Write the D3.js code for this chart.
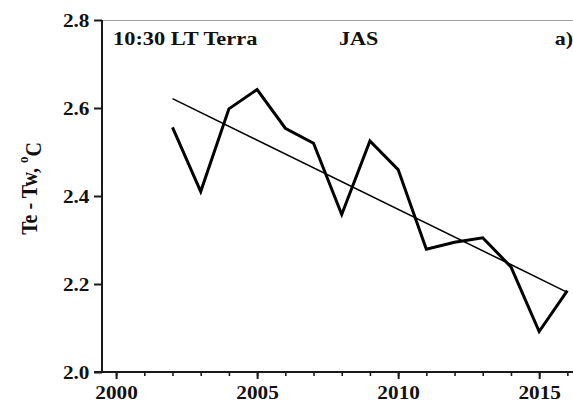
<!DOCTYPE html>
<html>
<head>
<meta charset="utf-8">
<script src="https://cdn.jsdelivr.net/npm/d3@7"></script>
<style>
  html, body { margin: 0; padding: 0; background: #fff; }
  svg { display: block; }
</style>
</head>
<body>
<svg id="chart" width="573" height="401"></svg>
<script>
// Annual JAS mean of Te - Tw (°C), 10:30 LT Terra overpass
const years = [2002, 2003, 2004, 2005, 2006, 2007, 2008, 2009, 2010, 2011, 2012, 2013, 2014, 2015, 2016];
const diffValues = [2.556, 2.41, 2.598, 2.642, 2.554, 2.52, 2.358, 2.525, 2.46, 2.279, 2.295, 2.305, 2.239, 2.092, 2.185];
const yTicks = [2.0, 2.2, 2.4, 2.6, 2.8];
const xMajorTicks = [2000, 2005, 2010, 2015];
const xMinorTicks = d3.range(2000, 2017);
const titleLeft = "10:30 LT Terra";
const titleSeason = "JAS";
const panelLabel = "a)";

const FONT = '"Liberation Serif", "Times New Roman", Times, serif';
const svg = d3.select("#chart");
const plot = { left: 102, right: 573, top: 20, bottom: 372 };
const SX = 1.16;  // horizontal glyph stretch for titles
const SXT = 1.12; // horizontal glyph stretch for tick labels

const styleText = (sel, size) => sel
  .style("font-family", FONT)
  .style("font-weight", "bold")
  .style("font-size", size + "px")
  .style("fill", "#111");

const x = d3.scaleLinear().domain([1999.5, 2016.2]).range([plot.left, plot.right]);
const y = d3.scaleLinear().domain([2.0, 2.8]).range([plot.bottom, plot.top]);

// Least-squares trend through the annual values
const n = years.length;
const mx = d3.mean(years), my = d3.mean(diffValues);
const slope = d3.sum(years, (t, i) => (t - mx) * (diffValues[i] - my)) / d3.sum(years, t => (t - mx) ** 2);
const trend = [years[0], years[n - 1]].map(t => [t, my + slope * (t - mx)]);

// Top frame line
svg.append("line")
  .attr("x1", plot.left).attr("x2", plot.right)
  .attr("y1", plot.top + 0.5).attr("y2", plot.top + 0.5)
  .attr("stroke", "#a0a0a0").attr("stroke-width", 1.2);

// Y axis
const yAxis = d3.axisLeft(y).tickValues(yTicks).tickSize(8).tickSizeOuter(0)
  .tickFormat(d3.format(".1f"));
const gy = svg.append("g").attr("transform", `translate(${plot.left},0)`).call(yAxis);
gy.select(".domain").remove();
gy.selectAll(".tick line").attr("stroke", "#1a1a1a").attr("stroke-width", 2);
gy.selectAll(".tick text")
  .attr("x", null).attr("dy", null)
  .attr("text-anchor", "end")
  .attr("transform", "translate(-12.5,6.5) scale(" + SXT + ",1)")
  .call(styleText, 19);

// X axis: minor yearly ticks, then labelled major ticks
const gxMinor = svg.append("g").attr("transform", `translate(0,${plot.bottom})`)
  .call(d3.axisBottom(x).tickValues(xMinorTicks).tickSize(4).tickSizeOuter(0).tickFormat(""));
gxMinor.select(".domain").remove();
gxMinor.selectAll(".tick line").attr("stroke", "#1a1a1a").attr("stroke-width", 1.6);

const gx = svg.append("g").attr("transform", `translate(0,${plot.bottom})`)
  .call(d3.axisBottom(x).tickValues(xMajorTicks).tickSize(7).tickSizeOuter(0).tickFormat(d3.format("d")));
gx.select(".domain").remove();
gx.selectAll(".tick line").attr("stroke", "#1a1a1a").attr("stroke-width", 2);
gx.selectAll(".tick text")
  .attr("y", null).attr("dy", null)
  .attr("text-anchor", "middle")
  .attr("transform", "translate(0,26.5) scale(" + SXT + ",1)")
  .call(styleText, 19);

// Axis lines
svg.append("line")
  .attr("x1", plot.left - 8).attr("x2", plot.right)
  .attr("y1", plot.bottom).attr("y2", plot.bottom)
  .attr("stroke", "#1a1a1a").attr("stroke-width", 2);
svg.append("line")
  .attr("x1", plot.left).attr("x2", plot.left)
  .attr("y1", plot.top).attr("y2", plot.bottom)
  .attr("stroke", "#1a1a1a").attr("stroke-width", 2);

// Data series
const line = d3.line().x(d => x(d[0])).y(d => y(d[1]));
svg.append("path")
  .datum(years.map((t, i) => [t, diffValues[i]]))
  .attr("d", line)
  .attr("fill", "none").attr("stroke", "#000")
  .attr("stroke-width", 3).attr("stroke-linejoin", "miter");

// Linear trend
svg.append("path")
  .datum(trend)
  .attr("d", line)
  .attr("fill", "none").attr("stroke", "#000").attr("stroke-width", 1.5);

// Titles
svg.append("text").text(titleLeft)
  .attr("transform", `translate(113,44.5) scale(${SX + 0.02},1)`)
  .call(styleText, 19);
svg.append("text").text(titleSeason)
  .attr("transform", `translate(339,44.5) scale(${SX},1)`)
  .call(styleText, 19);
svg.append("text").text(panelLabel)
  .attr("text-anchor", "end")
  .attr("transform", `translate(573,44.5) scale(${SX},1)`)
  .call(styleText, 19);

// Y axis title
const yl = svg.append("text")
  .attr("text-anchor", "middle")
  .attr("transform", `translate(36.5,188.5) rotate(-90) scale(1,${SX})`)
  .call(styleText, 20);
yl.append("tspan").text("Te - Tw, ");
yl.append("tspan").text("o").attr("dy", "-0.55em").style("font-size", "13px");
yl.append("tspan").text("C").attr("dy", "0.55em");
</script>
</body>
</html>
